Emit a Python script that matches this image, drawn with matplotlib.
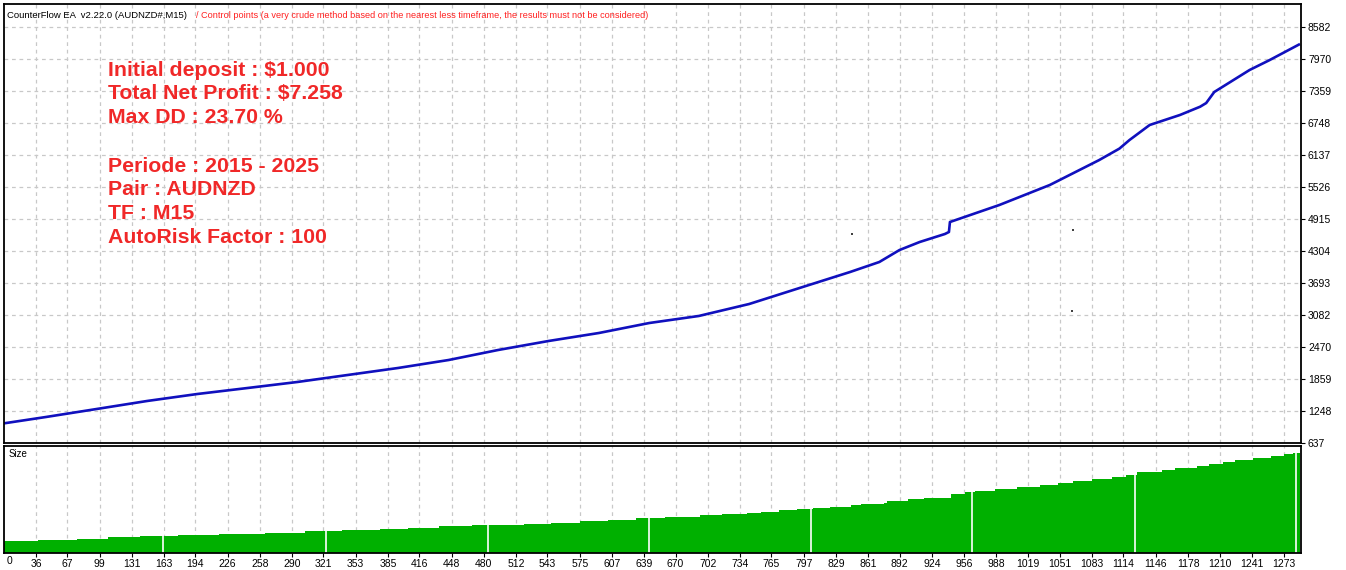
import numpy as np
import matplotlib.pyplot as plt

# equity curve (trade number, balance)
trades = [0, 46, 96, 146, 196, 246, 295, 345, 395, 445, 494, 544, 594, 644, 693,
          743, 793, 843, 872, 892, 912, 937, 941, 942, 991, 1041, 1090, 1110, 1120,
          1140, 1170, 1190, 1196, 1204, 1239, 1259, 1289]
equity = [1000, 1134, 1286, 1439, 1573, 1688, 1802, 1936, 2070, 2222, 2413, 2585,
          2738, 2929, 3063, 3292, 3598, 3903, 4094, 4323, 4476, 4629, 4667, 4858,
          5183, 5565, 6042, 6260, 6424, 6711, 6902, 7060, 7130, 7341, 7761, 7952, 8258]

# stray control points
stray_x = [845, 1064, 1063]
stray_y = [4629, 4705, 3158]

# position size steps (start trade, size)
size_x = [4, 38, 77, 107, 139, 177, 217, 263, 303, 339, 377, 405, 436, 468, 486,
          520, 547, 575, 603, 631, 660, 694, 716, 741, 755, 773, 790, 806, 823,
          844, 854, 877, 880, 900, 916, 943, 957, 967, 987, 1008, 1031, 1049, 1064,
          1083, 1103, 1117, 1127, 1152, 1165, 1187, 1199, 1213, 1225, 1242, 1260,
          1273, 1282, 1288]
size_val = [0.12, 0.13, 0.14, 0.16, 0.17, 0.18, 0.19, 0.20, 0.22, 0.23, 0.24, 0.25,
            0.27, 0.28, 0.28, 0.29, 0.30, 0.32, 0.33, 0.35, 0.36, 0.38, 0.39, 0.40,
            0.41, 0.43, 0.44, 0.45, 0.46, 0.48, 0.49, 0.50, 0.52, 0.54, 0.55, 0.59,
            0.61, 0.62, 0.64, 0.66, 0.68, 0.70, 0.72, 0.74, 0.76, 0.78, 0.81, 0.83,
            0.85, 0.87, 0.89, 0.91, 0.93, 0.95, 0.97, 0.99, 1.00, 1.00]
size_sep = [162, 323, 484, 644, 804, 964, 1125, 1285]

y_ticks = [637, 1248, 1859, 2470, 3082, 3693, 4304, 4915, 5526, 6137, 6748, 7359, 7970, 8582]
x_ticks = [36, 67, 99, 131, 163, 194, 226, 258, 290, 321, 353, 385, 416, 448, 480,
           512, 543, 575, 607, 639, 670, 702, 734, 765, 797, 829, 861, 892, 924,
           956, 988, 1019, 1051, 1083, 1114, 1146, 1178, 1210, 1241, 1273]

info_lines = ["Initial deposit : $1.000", "Total Net Profit : $7.258", "Max DD : 23.70 %",
              "Periode : 2015 - 2025", "Pair : AUDNZD", "TF : M15", "AutoRisk Factor : 100"]
info_y = [76, 99, 123, 171.5, 195.5, 219, 243]

W, H = 1346, 570
fig = plt.figure(figsize=(W / 100, H / 100), dpi=100)
ax1 = fig.add_axes([4 / W, 1 - 443 / H, 1297 / W, 439 / H])
ax2 = fig.add_axes([4 / W, 1 - 553 / H, 1297 / W, 107 / H])

xlim = (4.3, 1290)
grid_kw = dict(color='#c8c8c8', linestyle=(0, (3, 3)), linewidth=0.9)
tick_font = dict(family='Liberation Sans', size=7.5)

# main panel
ax1.plot(trades, equity, color='#1010be', lw=1.9, solid_capstyle='butt')
ax1.scatter(stray_x, stray_y, s=2, color='#404040', marker='s', linewidths=0)
ax1.set_xlim(*xlim)
ax1.set_ylim(637, 637 + 439 * 19.1)
ax1.set_yticks(y_ticks)
ax1.set_yticklabels([str(v) for v in y_ticks], **tick_font)
ax1.yaxis.tick_right()
ax1.tick_params(axis='y', length=3, width=0.8, pad=2)
ax1.set_xticks(x_ticks)
ax1.tick_params(axis='x', length=0, labelbottom=False)
ax1.grid(True, **grid_kw)
ax1.set_axisbelow(True)

ax1.text(3 / 1297, 1 - 12 / 439, "CounterFlow EA  v2.22.0 (AUDNZD#,M15)", transform=ax1.transAxes,
         family='Liberation Sans', size=6.8, color='black', va='center', ha='left')
ax1.text(192 / 1297, 1 - 12 / 439,
         "/ Control points (a very crude method based on the nearest less timeframe, the results must not be considered)",
         transform=ax1.transAxes, family='Liberation Sans', size=6.6, color='#ff2020', va='center', ha='left')

for s, yp in zip(info_lines, info_y):
    ax1.text((108 - 4) / 1297, (443 - yp) / 439, s, transform=ax1.transAxes,
             family='Liberation Sans', weight='bold', size=15.3, color='#f02828', va='baseline')

# size panel
ax2.fill_between(size_x + [1289], size_val + [size_val[-1]], 0, step='post',
                 color='#00b000', linewidth=0)
for sx in size_sep:
    ax2.axvline(sx, color='white', lw=1.2)
ax2.set_xlim(*xlim)
ax2.set_ylim(0, 1.07)
ax2.set_yticks([])
ax2.set_xticks(x_ticks)
ax2.set_xticklabels([str(v) for v in x_ticks], **tick_font)
ax2.tick_params(axis='x', length=3, width=0.8, pad=1)
ax2.grid(True, axis='x', **grid_kw)
ax2.set_axisbelow(True)
ax2.text(5 / 1297, 1 - 8 / 107, "Size", transform=ax2.transAxes,
         family='Liberation Sans', size=7, va='center', ha='left')
fig.text(7 / W, 1 - 561 / H, "0", family='Liberation Sans', size=7.5, va='center', ha='left')

for ax in (ax1, ax2):
    for sp in ax.spines.values():
        sp.set_linewidth(1.3)
        sp.set_color('black')

fig.savefig('out.png', dpi=100, facecolor='white')
